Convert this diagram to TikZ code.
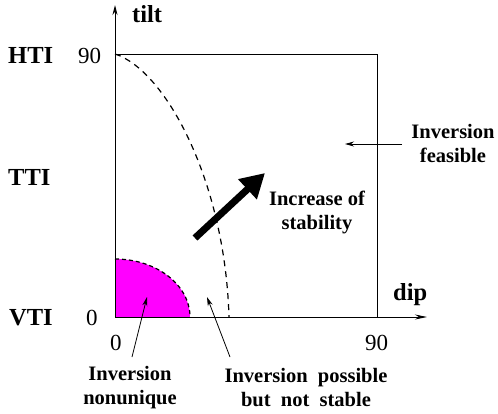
\documentclass[tikz,border=0pt]{standalone}
\usepackage{fontspec}
\setmainfont{Liberation Serif}
\usetikzlibrary{arrows.meta}
\definecolor{puremag}{RGB}{255,0,255}
\begin{document}
\begin{tikzpicture}[x=1pt,y=-1pt,
  lbl/.style={font=\fontsize{20.5}{24}\selectfont\bfseries,align=center,inner sep=0pt},
  big/.style={font=\fontsize{24.5}{28}\selectfont\bfseries,inner sep=0pt,anchor=base west},
  num/.style={font=\fontsize{23}{26}\selectfont,inner sep=0pt,anchor=base west},
  thin/.style={line width=1pt},
  ptr/.style={line width=0.8pt,-{Stealth[length=9pt,width=5pt]}}]
\useasboundingbox (0,0) rectangle (498,413);
% coordinates
\coordinate (O) at (115,317);
\coordinate (TL) at (115,54);
\coordinate (TR) at (377,54);
\coordinate (BR) at (377,317);
\coordinate (Ytip) at (115,5);
\coordinate (Xtip) at (427,317);
% magenta region
\fill[puremag] (O) -- (115,259) arc[start angle=90,end angle=0,x radius=75,y radius=-58] -- cycle;
\draw[line width=1.2pt,dash pattern=on 4pt off 3pt] (115,259) arc[start angle=90,end angle=0,x radius=75,y radius=-58];
% box
\draw[thin] (TL) -- (TR) -- (BR);
\draw[thin,-{Stealth[length=10pt,width=5pt]}] (O) -- (Ytip);
\draw[thin,-{Stealth[length=12pt,width=5pt]}] (O) -- (Xtip);
% dashed boundary
\draw[line width=1.2pt,dash pattern=on 6pt off 5pt] (TL) .. controls (165,70) and (225,180) .. (229,317);
% thick arrow
\coordinate (Ta) at (195,238);
\coordinate (Tb) at (265,173);
\draw[line width=7pt,-{Triangle[length=24pt,width=26pt]}] (Ta) -- (Tb);
% axis labels
\node[big] (tilt) at (132,22) {tilt};
\node[big] (dip) at (393,300) {dip};
\node[big] (hti) at (8,63) {HTI};
\node[big] (tti) at (8,185) {TTI};
\node[big] (vti) at (9,325) {VTI};
\node[num] (n90a) at (78,63) {90};
\node[num] (n0a) at (86,325) {0};
\node[num] (n0b) at (110,350) {0};
\node[num] (n90b) at (365,350) {90};
% region labels
\node[lbl] (feas) at (453,143) {Inversion\\feasible};
\node[lbl] (incr) at (317,212) {Increase of\\stability};
\node[lbl] (nonu) at (130,388) {Inversion\\nonunique};
\node[lbl] (poss) at (306,388) {Inversion\ \ possible\\but\ \ not\ \ stable};
% pointer arrows
\coordinate (f1) at (402,144);
\coordinate (f2) at (345,144);
\draw[ptr] (f1) -- (f2);
\coordinate (n1) at (132,357);
\coordinate (n2) at (147,297);
\draw[ptr] (n1) -- (n2);
\coordinate (p1) at (230,357);
\coordinate (p2) at (207,297);
\draw[ptr] (p1) -- (p2);
\end{tikzpicture}
\end{document}
